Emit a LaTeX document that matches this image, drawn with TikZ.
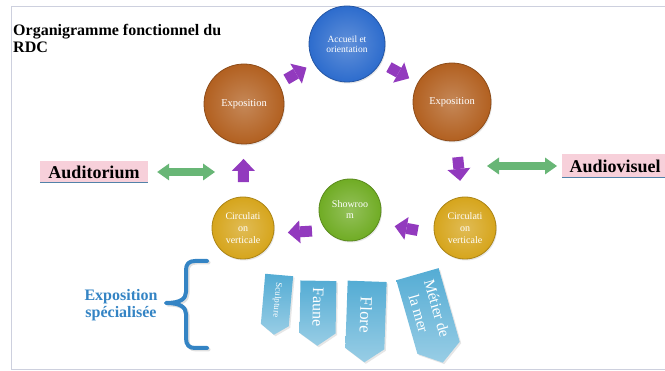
\documentclass[tikz,border=0pt]{standalone}
\usepackage{fontspec}
\setmainfont{Liberation Serif}
\usetikzlibrary{arrows.meta,shapes.symbols,shadows}

\definecolor{accueilblue}{RGB}{45,108,205}
\definecolor{expobrown}{RGB}{178,96,32}
\definecolor{circgold}{RGB}{214,165,28}
\definecolor{showgreen}{RGB}{112,172,36}
\definecolor{flowpurple}{RGB}{146,58,190}
\definecolor{linkgreen}{RGB}{104,182,118}
\definecolor{labelpink}{RGB}{247,208,218}
\definecolor{tagblue}{RGB}{84,172,212}
\definecolor{bracketblue}{RGB}{52,132,196}
\definecolor{framegray}{RGB}{205,208,222}

\tikzset{
  room/.style={circle, draw=#1!80!black, line width=0.8pt,
    inner color=#1!75!white, outer color=#1, text=white,
    align=center, inner sep=0pt,
    drop shadow={opacity=0.2, shadow xshift=1pt, shadow yshift=-1.5pt}},
  flow/.style={flowpurple, line width=11pt,
    -{Triangle[width=23pt, length=12pt, line width=0pt]},
    shorten <=#1, shorten >=#1},
  sidelink/.style={linkgreen, line width=8pt,
    {Triangle[width=17pt, length=12pt, line width=0pt]}-{Triangle[width=17pt, length=12pt, line width=0pt]}},
  namebox/.style={fill=labelpink, inner sep=0pt,
    font=\bfseries\fontsize{18}{18}\selectfont},
  themetag/.style={signal, signal to=east, signal from=nowhere,
    signal pointer angle=110, inner sep=0pt, text=white,
    top color=tagblue, bottom color=tagblue!60!white,
    drop shadow={opacity=0.2, shadow xshift=1.5pt, shadow yshift=-1.5pt}},
}

\begin{document}
\begin{tikzpicture}[x=1pt, y=-1pt]
\useasboundingbox (0,0) rectangle (665,371);
\draw[framegray, line width=0.8pt] (668,6) -- (11,6) -- (11,369) -- (668,369);

\node[anchor=north west, inner sep=0pt, align=left,
  font=\bfseries\fontsize{16}{17}\selectfont] (title) at (13,24)
  {Organigramme fonctionnel du\\RDC};

% ring of rooms
\node[room=accueilblue, minimum size=76pt, font=\fontsize{9.5}{10}\selectfont]
  (accueil) at (347,44) {Accueil et\\orientation};
\node[room=expobrown, minimum size=80pt, font=\fontsize{10.5}{12}\selectfont]
  (expoL) at (244,104) {Exposition};
\node[room=expobrown, minimum size=78pt, font=\fontsize{10.5}{12}\selectfont]
  (expoR) at (452,102) {Exposition};
\node[room=circgold, minimum size=62pt, font=\fontsize{10}{12}\selectfont]
  (circL) at (243,228) {Circulati\\on\\verticale};
\node[room=showgreen, minimum size=62pt, font=\fontsize{10}{11}\selectfont]
  (showroom) at (350,210) {Showroo\\m};
\node[room=circgold, minimum size=62pt, font=\fontsize{10}{12}\selectfont]
  (circR) at (465,228) {Circulati\\on\\verticale};

\draw[flow=8.5] (expoL) -- (accueil);
\draw[flow=9.5] (accueil) -- (expoR);
\draw[flow=16] (expoR) -- (circR);
\draw[flow=16.5] (circR.190) -- (showroom.-25);
\draw[flow=14] (showroom.220) -- (circL.-10);
\draw[flow=14.5] (circL) -- (expoL);

% side halls
\node[namebox, minimum width=108pt, minimum height=21pt] (auditorium) at (94,172) {Auditorium};
\node[namebox, minimum width=106pt, minimum height=23pt, anchor=west] (audiovisuel) at (562,166) {Audiovisuel};
\draw[bracketblue!60!gray, line width=1.5pt] (auditorium.south west) -- (auditorium.south east);
\draw[bracketblue!60!gray, line width=1.5pt] (audiovisuel.south west) -- (audiovisuel.south east);

\coordinate (westHall) at (215,172);
\coordinate (eastHall) at (487,166);
\draw[sidelink, shorten <=9pt] (auditorium) -- (westHall);
\draw[sidelink, shorten >=5pt] (eastHall) -- (audiovisuel);

% specialised exhibitions
\node[font=\bfseries\fontsize{16}{17}\selectfont, text=bracketblue, align=center]
  (speciale) at (121,305) {Exposition\\spécialisée};
\draw[black!35, line width=4pt, line cap=round, opacity=0.35, xshift=1.5pt, yshift=-1.5pt]
  (207,261) -- (195,261) .. controls (189,261) and (186,264) .. (186,270)
  -- (186,292) .. controls (186,299) and (180,303) .. (166,303)
  .. controls (180,303) and (186,307) .. (186,314)
  -- (186,338) .. controls (186,345) and (189,348) .. (195,348) -- (207,348);
\draw[bracketblue, line width=4pt, line cap=round, line join=round]
  (207,261) -- (195,261) .. controls (189,261) and (186,264) .. (186,270)
  -- (186,292) .. controls (186,299) and (180,303) .. (166,303)
  .. controls (180,303) and (186,307) .. (186,314)
  -- (186,338) .. controls (186,345) and (189,348) .. (195,348) -- (207,348);

\node[themetag, rotate=-95, minimum width=60pt, minimum height=28pt,
  font=\fontsize{9}{9}\selectfont] (sculpture) at (277,300) {Sculpture};
\node[themetag, rotate=-91, minimum width=65pt, minimum height=36pt,
  font=\fontsize{16}{16}\selectfont] (faune) at (318,307) {Faune};
\node[themetag, rotate=-92, minimum width=81pt, minimum height=39pt,
  font=\fontsize{17}{17}\selectfont] (flore) at (366,315) {Flore};
\node[themetag, rotate=-74, minimum width=92pt, minimum height=44pt,
  align=center, font=\fontsize{15.5}{19}\selectfont] (metier) at (428,311) {Métier de\\la mer};
\end{tikzpicture}
\end{document}
